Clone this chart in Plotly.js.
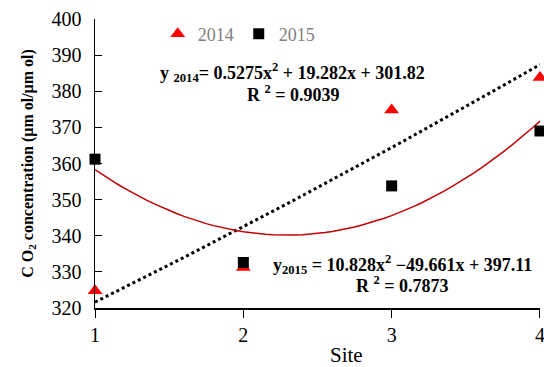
<!DOCTYPE html>
<html><head><meta charset="utf-8">
<script src="https://cdn.plot.ly/plotly-3.0.1.min.js"></script>
<style>body{margin:0;background:#fff}#c{width:544px;height:367px}</style>
</head><body><div id="c"></div>
<script>
const sites = [1, 2, 3, 4];
const co2_2014 = [324.8, 331.2, 374.8, 383.8];
const co2_2015 = [361.2, 332.6, 353.8, 369.0];
// trend-line coefficients as printed on the chart [a, b, c] for a*x^2 + b*x + c
const fit2014 = [0.5275, 19.282, 301.82];
const fit2015 = [10.828, -49.661, 397.11];
const xTicks = [1, 2, 3, 4];
const yTicks = [320, 330, 340, 350, 360, 370, 380, 390, 400];

function curve(c) {
  const xs = [], ys = [];
  for (let i = 0; i <= 60; i++) {
    const x = 1 + 3 * i / 60;
    xs.push(x); ys.push(c[0] * x * x + c[1] * x + c[2]);
  }
  return {xs, ys};
}
const t14 = curve(fit2014), t15 = curve(fit2015);
const serif = "Liberation Serif";

const data = [
  {x: t14.xs, y: t14.ys, mode: 'lines', line: {color: '#000', width: 3, dash: 'dot'}, showlegend: false, hoverinfo: 'skip'},
  {x: t15.xs, y: t15.ys, mode: 'lines', line: {color: '#c00000', width: 1.5}, showlegend: false, hoverinfo: 'skip'},
  {x: sites, y: co2_2014, name: '2014', mode: 'markers', marker: {symbol: 'triangle-up', size: 13, color: '#ff0000'}, cliponaxis: false},
  {x: sites, y: co2_2015, name: '2015', mode: 'markers', marker: {symbol: 'square', size: 11, color: '#000'}, cliponaxis: false}
];

const ann = (px, py, text, size) => ({xref: 'paper', yref: 'paper', x: (px - 95) / 445, y: (308 - py) / 289,
  xanchor: 'center', yanchor: 'middle', showarrow: false, text: text, font: {family: serif, size: size}});

const layout = {
  width: 544, height: 367,
  margin: {l: 95, r: 4, t: 19, b: 59},
  paper_bgcolor: '#fff', plot_bgcolor: '#fff',
  font: {family: serif, color: '#000'},
  showlegend: true,
  legend: {orientation: 'h', x: 0.141, y: 0.948, xanchor: 'left', yanchor: 'middle',
           font: {family: serif, size: 18, color: '#808080'}, bgcolor: 'rgba(0,0,0,0)', itemwidth: 30},
  xaxis: {range: [0.9999, 4.0001], tickvals: xTicks, ticks: 'outside', ticklen: 8, tickcolor: '#000',
          showline: true, linecolor: '#000', linewidth: 1.5, showgrid: false, zeroline: false,
          tickfont: {family: serif, size: 20}, ticklabeloverflow: 'allow'},
  yaxis: {range: [320, 400], tickvals: yTicks, ticks: 'inside', ticklen: 7, tickcolor: '#000',
          showline: true, linecolor: '#000', linewidth: 1.5, showgrid: false, zeroline: false,
          tickfont: {family: serif, size: 20}, ticklabelstandoff: 8,
          title: {text: '<b>C O<sub>2</sub> concentration (μm ol/μm ol)</b>', font: {family: serif, size: 16}, standoff: 14}},
  annotations: [
    ann(346, 355, 'Site', 21),
    ann(292, 72, '<b>y <sub>2014</sub>= 0.5275x<sup>2</sup> + 19.282x + 301.82</b>', 18),
    ann(293, 93, '<b>R <sup>2</sup> = 0.9039</b>', 18),
    ann(402, 264, '<b>y<sub>2015</sub> = 10.828x<sup>2</sup> −49.661x + 397.11</b>', 18),
    ann(402, 284, '<b>R <sup>2</sup> = 0.7873</b>', 18)
  ]
};
Plotly.newPlot('c', data, layout, {displayModeBar: false, staticPlot: true});
</script></body></html>
